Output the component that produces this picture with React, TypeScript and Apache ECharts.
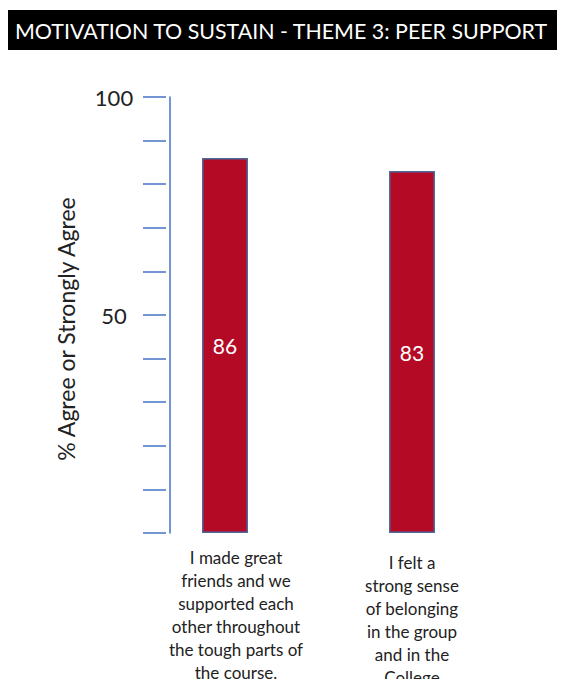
import React, { useEffect, useRef } from "react";
import * as echarts from "echarts";

const title = "MOTIVATION TO SUSTAIN - THEME 3: PEER SUPPORT";
const yAxisTitle = "% Agree or Strongly Agree";
const categories = [
  "I made great\nfriends and we\nsupported each\nother throughout\nthe tough parts of\nthe course.",
  "I felt a\nstrong sense\nof belonging\nin the group\nand in the\nCollege",
];
const values = [86, 83];
const shownTicks = [50, 100];

const FONT = "Lato, 'Open Sans', sans-serif";

export default function App() {
  const ref = useRef<HTMLDivElement>(null);
  useEffect(() => {
    if (!ref.current) return;
    const chart = echarts.init(ref.current, null, { renderer: "svg" });
    chart.setOption({
      animation: false,
      graphic: [
        {
          type: "rect",
          shape: { x: 5, y: 10, width: 552, height: 40 },
          style: { fill: "#000" },
          silent: true,
        },
        {
          type: "text",
          x: 15,
          y: 31,
          style: {
            text: title,
            fill: "#fff",
            font: `21.4px ${FONT}`,
            textVerticalAlign: "middle",
          },
        },
        {
          type: "text",
          x: 66,
          y: 329,
          rotation: Math.PI / 2,
          style: {
            text: yAxisTitle,
            fill: "#222",
            font: `23px ${FONT}`,
            textAlign: "center",
            textVerticalAlign: "middle",
          },
        },
      ],
      grid: { left: 131.5, right: 67.5, top: 97, bottom: 154 },
      xAxis: {
        type: "category",
        data: categories,
        axisLine: { show: false },
        axisTick: { show: false },
        axisLabel: {
          interval: 0,
          margin: 13,
          formatter: (v: string, i: number) =>
            i === 0
              ? v.split("\n").map((l) => `{a|${l}}`).join("\n")
              : `{s| }\n` + v.split("\n").map((l) => `{b|${l}}`).join("\n"),
          rich: {
            a: {
              color: "#222",
              fontFamily: FONT,
              fontSize: 17,
              lineHeight: 23,
              padding: [0, 0, 0, 22],
            },
            b: {
              color: "#222",
              fontFamily: FONT,
              fontSize: 17,
              lineHeight: 23,
            },
            s: {
              fontSize: 1,
              lineHeight: 5,
            },
          },
        },
      },
      yAxis: [
        {
          type: "value",
          position: "left",
          min: 0,
          max: 100,
          interval: 10,
          offset: -38.5,
          splitLine: { show: false },
          axisLine: { show: true, lineStyle: { color: "#4472C4", width: 1.5 } },
          axisTick: { show: false },
          axisLabel: { show: false },
        },
        {
          type: "value",
          position: "left",
          min: 0,
          max: 100,
          interval: 10,
          offset: -34.5,
          splitLine: { show: false },
          axisLine: { show: false },
          axisTick: {
            show: true,
            length: 23,
            lineStyle: { color: "#4472C4", width: 1.5 },
          },
          axisLabel: {
            show: true,
            margin: 52,
            align: "center",
            color: "#222",
            fontFamily: FONT,
            fontSize: 22,
            formatter: (v: number) => (shownTicks.includes(v) ? String(v) : ""),
          },
        },
      ],
      series: [
        {
          type: "bar",
          data: values,
          barWidth: 46,
          itemStyle: { color: "#B40A26", borderColor: "#4A6A9E", borderWidth: 1.5 },
          label: {
            show: true,
            position: "inside",
            color: "#fff",
            fontFamily: FONT,
            fontSize: 21,
          },
        },
      ],
    });
    return () => chart.dispose();
  }, []);
  return <div ref={ref} style={{ width: 573, height: 687, margin: -8 }} />;
}
